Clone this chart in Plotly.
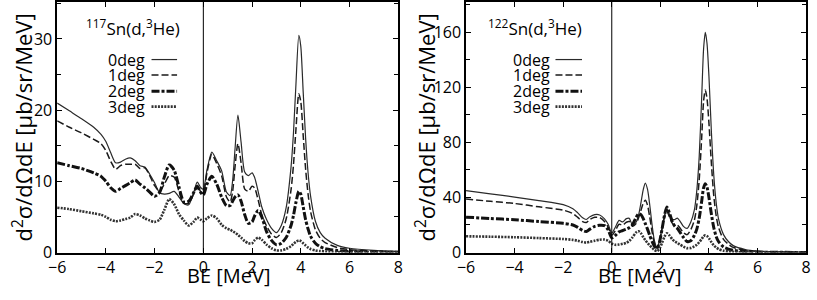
import plotly.graph_objects as go

# ---------------- data ----------------
be_left = [-6, -5.5, -5, -4.5, -4.2, -4.0, -3.8, -3.6, -3.4, -3.2, -3.0, -2.8, -2.6, -2.4, -2.2, -2.0,
           -1.8, -1.6, -1.4, -1.2, -1.0, -0.8, -0.6, -0.4, -0.25, -0.1, 0.0, 0.15, 0.35, 0.55, 0.75, 0.95,
           1.1, 1.2, 1.3, 1.42, 1.55, 1.7, 1.85, 2.0, 2.1, 2.25, 2.4, 2.6, 2.8, 3.0, 3.2, 3.4, 3.6, 3.7,
           3.8, 3.92, 4.0, 4.1, 4.2, 4.3, 4.4, 4.6, 4.8, 5.0, 5.5, 6.0, 7.0, 8.0]

sn117_0deg = [21.0, 19.9, 18.8, 17.6, 16.6, 15.6, 14.0, 12.6, 12.7, 13.1, 13.3, 12.9, 12.2, 12.0, 11.0, 9.8,
              8.4, 8.2, 8.3, 8.6, 7.8, 6.9, 6.7, 8.4, 9.9, 9.1, 8.9, 11.6, 14.1, 12.9, 11.5, 8.5,
              8.0, 10.0, 14.5, 19.3, 15.5, 11.3, 10.8, 11.2, 10.6, 8.6, 6.4, 4.6, 3.4, 2.8, 3.8, 6.3, 12.0, 16.8,
              23.5, 30.5, 29.0, 22.5, 16.0, 11.2, 8.0, 4.4, 2.8, 2.0, 1.0, 0.6, 0.3, 0.15]
sn117_1deg = [18.5, 17.6, 16.8, 15.9, 15.3, 14.3, 12.8, 11.7, 12.2, 12.4, 12.4, 12.4, 11.8, 11.9, 10.8, 9.4,
              8.6, 9.6, 10.8, 10.6, 8.6, 6.9, 6.9, 8.2, 9.4, 8.5, 8.3, 11.2, 13.8, 12.5, 10.8, 7.8,
              7.1, 8.5, 12.0, 15.3, 12.6, 8.9, 8.6, 9.3, 9.1, 7.4, 5.3, 3.7, 2.6, 2.1, 2.8, 4.7, 8.8, 12.3,
              17.2, 22.3, 21.2, 16.4, 11.7, 8.2, 5.8, 3.2, 2.0, 1.4, 0.7, 0.4, 0.2, 0.1]
sn117_2deg = [12.6, 12.2, 11.8, 11.2, 10.7, 10.0, 9.1, 8.6, 9.0, 9.4, 9.8, 10.2, 9.6, 9.1, 8.5, 7.9,
              8.4, 10.6, 12.3, 11.6, 9.2, 7.1, 7.2, 8.4, 9.3, 8.4, 8.1, 9.6, 10.7, 9.6, 7.8, 6.6,
              6.6, 7.2, 7.8, 8.1, 7.2, 5.3, 4.1, 4.3, 5.1, 5.9, 5.0, 2.9, 1.7, 1.1, 1.3, 2.1, 3.8, 5.2,
              7.0, 8.6, 8.2, 6.4, 4.6, 3.3, 2.3, 1.3, 0.8, 0.55, 0.28, 0.15, 0.07, 0.04]
sn117_3deg = [6.3, 6.1, 5.8, 5.5, 5.3, 5.0, 4.6, 4.4, 4.5, 4.7, 4.9, 5.4, 5.2, 4.8, 4.5, 4.3,
              4.6, 6.0, 7.5, 6.8, 5.4, 4.5, 3.8, 4.3, 4.9, 4.6, 4.4, 4.8, 5.2, 4.8, 3.9, 3.4,
              3.2, 3.0, 2.8, 2.5, 2.1, 1.6, 1.3, 1.3, 1.7, 2.1, 1.8, 1.1, 0.6, 0.3, 0.3, 0.5, 0.9, 1.2,
              1.5, 1.7, 1.6, 1.3, 1.0, 0.7, 0.5, 0.3, 0.2, 0.15, 0.08, 0.05, 0.03, 0.02]

be_right = [-6, -5, -4, -3, -2, -1.6, -1.4, -1.2, -1.05, -0.9, -0.7, -0.5, -0.3, -0.15, 0.0, 0.15,
            0.3, 0.45, 0.6, 0.72, 0.85, 1.0, 1.1, 1.2, 1.3, 1.38, 1.47, 1.56, 1.66, 1.76, 1.87, 1.97,
            2.07, 2.17, 2.27, 2.37, 2.5, 2.6, 2.7, 2.8, 2.95, 3.1, 3.25, 3.4, 3.5, 3.6, 3.7, 3.78,
            3.85, 3.92, 4.0, 4.1, 4.2, 4.3, 4.4, 4.6, 4.8, 5.0, 5.5, 6.0, 7.0, 8.0]

sn122_0deg = [44.9, 42.6, 40.3, 37.7, 34.8, 31.8, 28.8, 25.2, 24.0, 26.0, 27.5, 27.3, 24.5, 20.5, 14.0, 18.5,
              23.4, 22.2, 24.6, 24.8, 20.0, 22.0, 27.0, 36.0, 46.0, 50.5, 46.0, 35.0, 20.0, 8.3, 3.5, 9.0,
              18.0, 27.0, 31.5, 28.0, 24.0, 24.0, 25.0, 23.0, 19.0, 17.5, 22.0, 31.0, 45.0, 70.0, 112.0, 148.0,
              160.0, 152.0, 128.0, 88.0, 56.0, 36.0, 24.0, 13.0, 8.0, 5.0, 2.2, 1.1, 0.4, 0.2]
sn122_1deg = [38.9, 37.2, 35.6, 33.2, 30.8, 28.3, 25.5, 22.5, 21.8, 24.0, 25.6, 25.4, 22.5, 18.5, 12.5, 16.0,
              20.5, 20.0, 22.0, 22.5, 19.0, 21.0, 25.0, 30.5, 36.0, 38.0, 34.5, 26.0, 15.0, 6.5, 3.0, 8.5,
              17.0, 25.5, 30.0, 26.0, 21.0, 20.0, 20.0, 18.0, 14.5, 13.0, 16.5, 23.5, 34.0, 53.0, 83.0, 110.0,
              118.0, 112.0, 94.0, 65.0, 41.0, 26.5, 18.0, 9.5, 6.0, 3.7, 1.6, 0.8, 0.3, 0.15]
sn122_2deg = [25.7, 24.7, 23.8, 22.5, 21.2, 20.0, 18.3, 16.0, 15.3, 17.0, 19.0, 19.8, 19.5, 16.5, 10.6, 12.5,
              15.0, 16.0, 17.0, 18.0, 20.0, 25.5, 28.0, 27.5, 24.5, 21.0, 17.0, 12.5, 8.0, 4.5, 3.0, 8.0,
              17.0, 27.0, 33.0, 29.0, 22.0, 19.0, 17.5, 15.0, 11.0, 8.0, 8.5, 12.5, 17.0, 25.0, 37.0, 47.0,
              50.0, 47.5, 40.0, 28.0, 18.0, 11.5, 7.8, 4.0, 2.5, 1.6, 0.7, 0.35, 0.12, 0.06]
sn122_3deg = [11.8, 11.5, 11.1, 10.5, 9.8, 9.2, 8.6, 7.6, 7.2, 7.8, 8.6, 9.3, 9.4, 8.6, 6.5, 5.6,
              5.8, 6.3, 7.0, 8.5, 11.0, 14.5, 15.5, 14.0, 11.0, 9.0, 7.0, 5.2, 3.4, 1.8, 1.0, 3.0,
              7.0, 11.5, 14.0, 12.5, 9.5, 8.0, 7.0, 5.8, 4.3, 3.2, 3.3, 4.5, 5.6, 7.5, 9.8, 11.8,
              12.5, 12.0, 10.3, 7.6, 5.2, 3.6, 2.5, 1.3, 0.8, 0.5, 0.2, 0.1, 0.04, 0.02]

series_names = ["0deg", "1deg", "2deg", "3deg"]
panel_titles = ["<sup>117</sup>Sn(d,<sup>3</sup>He)", "<sup>122</sup>Sn(d,<sup>3</sup>He)"]
x_ticks = [-6, -4, -2, 0, 2, 4, 6, 8]

# ---------------- styles ----------------
FONT = "Open Sans"
styles = [
    dict(color="#2a2a2a", width=1.2, dash="solid"),
    dict(color="#1a1a1a", width=1.5, dash="7px,3px"),
    dict(color="#111111", width=3.0, dash="8px,2px,3px,2px"),
    dict(color="#333333", width=2.6, dash="2px,1.2px"),
]

W, H = 817, 300
def px_x(p):
    return p / W
def px_y(p):
    return 1 - p / H

fig = go.Figure()

panels = [
    dict(x=be_left, ys=[sn117_0deg, sn117_1deg, sn117_2deg, sn117_3deg], xa="x", ya="y"),
    dict(x=be_right, ys=[sn122_0deg, sn122_1deg, sn122_2deg, sn122_3deg], xa="x2", ya="y2"),
]
for p in panels:
    for name, ys, st in zip(series_names, p["ys"], styles):
        fig.add_trace(go.Scatter(x=p["x"], y=ys, mode="lines", name=name,
                                 line=dict(color=st["color"], width=st["width"], dash=st["dash"],
                                           shape="spline", smoothing=0.7),
                                 xaxis=p["xa"], yaxis=p["ya"], showlegend=False))

ydom = [px_y(262), px_y(1)]
common_x = dict(range=[-6, 8], tickvals=x_ticks, ticks="inside", ticklen=5, tickcolor="black",
                showline=True, linecolor="black", linewidth=1.5, mirror="ticks", showgrid=False,
                zeroline=False, ticklabeloverflow="allow",
                tickfont=dict(family=FONT, size=16, color="black"))
common_y = dict(ticks="inside", ticklen=5, tickcolor="black", showline=True, linecolor="black",
                linewidth=1.5, mirror="ticks", showgrid=False, zeroline=False,
                tickfont=dict(family=FONT, size=16, color="black"))

fig.update_layout(
    width=W, height=H, margin=dict(l=0, r=0, t=0, b=0),
    plot_bgcolor="white", paper_bgcolor="white",
    xaxis=dict(domain=[px_x(49), px_x(396)], anchor="y", **common_x),
    yaxis=dict(domain=ydom, anchor="x", range=[0, 35.2], tickvals=[0, 10, 20, 30],
               minor=dict(dtick=5, ticks="inside", ticklen=4, tickcolor="black"), **common_y),
    xaxis2=dict(domain=[px_x(465), px_x(811)], anchor="y2", **common_x),
    yaxis2=dict(domain=ydom, anchor="x2", range=[0, 182], tickvals=[0, 40, 80, 120, 160],
                minor=dict(dtick=20, ticks="inside", ticklen=4, tickcolor="black"), **common_y),
)

# vertical line at BE = 0
for xa, ya in [("x", "y"), ("x2", "y2")]:
    fig.add_shape(type="line", xref=xa, yref=ya + " domain", x0=0, x1=0, y0=0, y1=1,
                  line=dict(color="black", width=1))

# axis titles
ytitle = "d<sup>2</sup>σ/dΩdE [μb/sr/MeV]"
for xc, xt in [(14, 223), (424, 642)]:
    fig.add_annotation(text=ytitle, xref="paper", yref="paper", x=px_x(xc), y=px_y(132),
                       textangle=-90, showarrow=False, xanchor="center", yanchor="middle",
                       font=dict(family=FONT, size=22, color="black"))
    fig.add_annotation(text="BE [MeV]", xref="paper", yref="paper", x=px_x(xt), y=px_y(286),
                       showarrow=False, xanchor="center", yanchor="middle",
                       font=dict(family=FONT, size=20, color="black"))

# panel titles and legends
legend_rows = [61, 77, 94, 110]
for title, tx, lx_text, lx0, lx1 in [(panel_titles[0], 126, 140, 145, 171),
                                     (panel_titles[1], 535, 552, 556, 583)]:
    fig.add_annotation(text=title, xref="paper", yref="paper", x=px_x(tx), y=px_y(28),
                       showarrow=False, xanchor="center", yanchor="middle",
                       font=dict(family=FONT, size=17, color="black"))
    for name, yy, st in zip(series_names, legend_rows, styles):
        fig.add_annotation(text=name, xref="paper", yref="paper", x=px_x(lx_text), y=px_y(yy),
                           showarrow=False, xanchor="right", yanchor="middle",
                           font=dict(family=FONT, size=16, color="black"))
        fig.add_shape(type="line", xref="paper", yref="paper", x0=px_x(lx0), x1=px_x(lx1),
                      y0=px_y(yy), y1=px_y(yy),
                      line=dict(color=st["color"], width=st["width"], dash=st["dash"]))

fig.write_html("out.html", config={"displayModeBar": False},
               post_script="document.body.style.margin='0';document.body.style.overflow='hidden';")
